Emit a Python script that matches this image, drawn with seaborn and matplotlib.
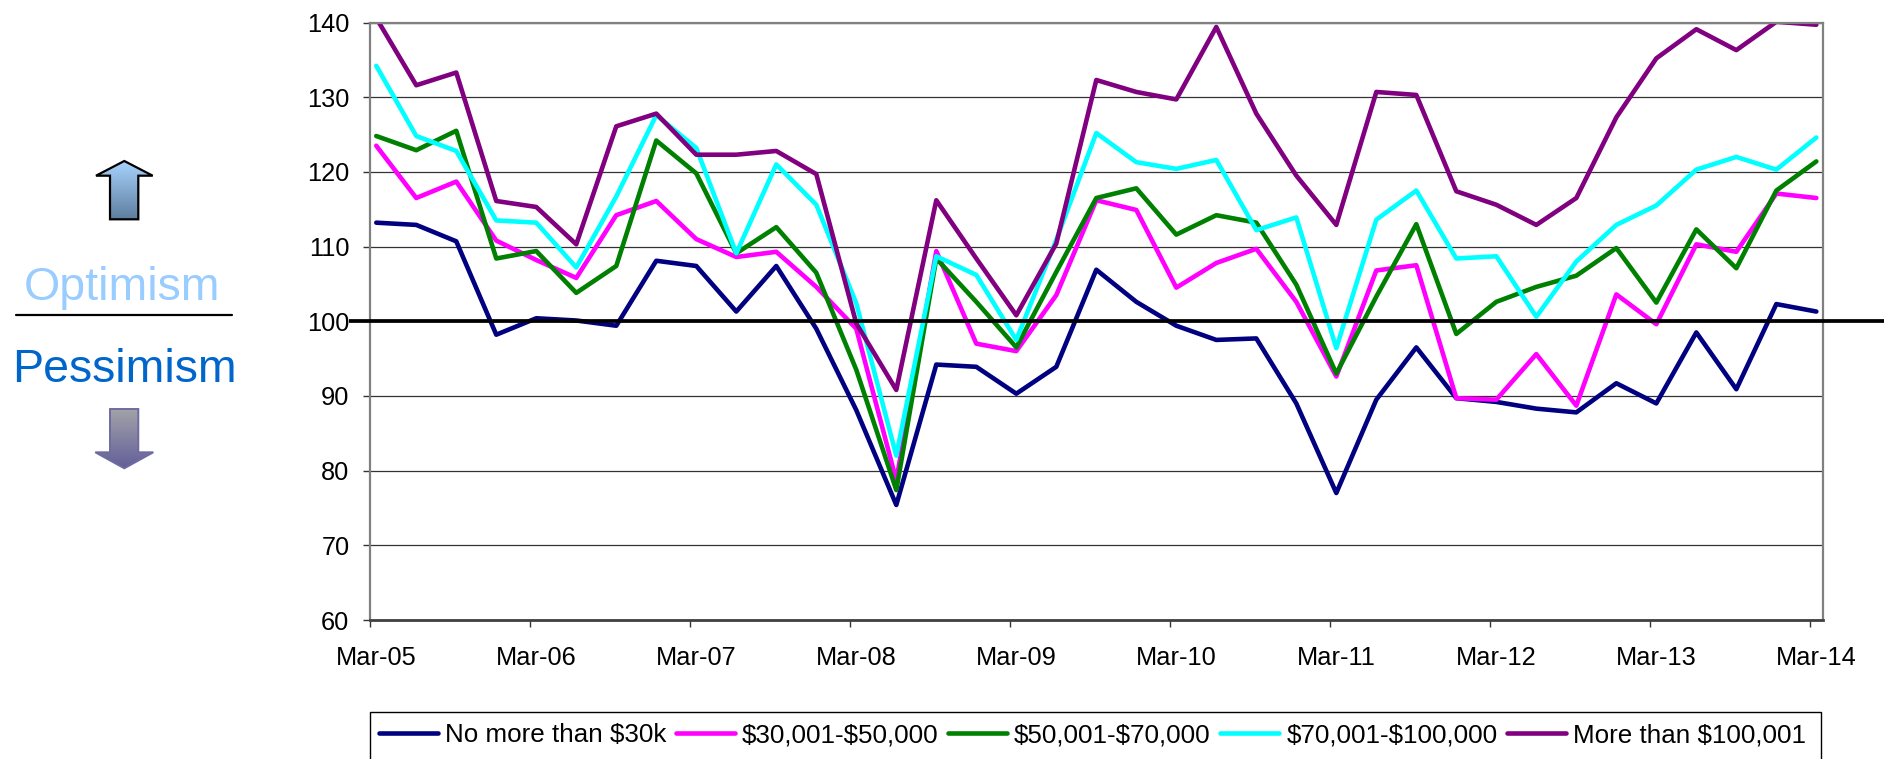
import numpy as np
import pandas as pd
import matplotlib
matplotlib.use('Agg')
import matplotlib.pyplot as plt
from matplotlib.patches import Polygon, Rectangle
import seaborn as sns

# quarterly readings, Mar-05 to Mar-14
months = list(range(0, 109, 3))
year_labels = ['Mar-05', 'Mar-06', 'Mar-07', 'Mar-08', 'Mar-09', 'Mar-10', 'Mar-11', 'Mar-12', 'Mar-13', 'Mar-14']
y_ticks = [60, 70, 80, 90, 100, 110, 120, 130, 140]

no_more_30k = [113.2, 112.9, 110.7, 98.2, 100.4, 100.1, 99.4, 108.1, 107.4, 101.3, 107.4, 99.0, 88.1,
               75.4, 94.2, 93.9, 90.3, 93.9, 106.9, 102.6, 99.4, 97.5, 97.7, 89.0, 77.0, 89.5,
               96.5, 89.7, 89.2, 88.3, 87.8, 91.7, 89.0, 98.5, 90.9, 102.3, 101.3]
from_30k = [123.5, 116.5, 118.7, 110.8, 108.2, 105.8, 114.2, 116.1, 111.0, 108.6, 109.3, 104.6, 99.0,
            78.7, 109.4, 97.0, 96.0, 103.5, 116.2, 114.9, 104.5, 107.8, 109.7, 102.6, 92.6, 106.8,
            107.5, 89.7, 89.5, 95.6, 88.7, 103.6, 99.6, 110.3, 109.3, 117.1, 116.5]
from_50k = [124.8, 122.9, 125.5, 108.4, 109.4, 103.8, 107.4, 124.2, 119.8, 109.1, 112.6, 106.5, 93.5,
            77.4, 108.4, 102.6, 96.5, 106.6, 116.5, 117.8, 111.6, 114.2, 113.2, 104.9, 93.0, 103.3,
            113.0, 98.3, 102.6, 104.6, 106.1, 109.8, 102.5, 112.3, 107.1, 117.5, 121.4]
from_70k = [134.2, 124.8, 122.8, 113.5, 113.2, 107.2, 116.7, 127.6, 123.2, 109.1, 121.0, 115.6, 102.4,
            82.0, 108.7, 106.2, 97.5, 110.9, 125.2, 121.3, 120.4, 121.6, 112.2, 113.9, 96.4, 113.6,
            117.5, 108.4, 108.7, 100.6, 108.0, 112.9, 115.5, 120.3, 122.0, 120.3, 124.6]
more_100k = [140.6, 131.6, 133.3, 116.1, 115.3, 110.3, 126.1, 127.8, 122.3, 122.3, 122.8, 119.7, 99.7,
             90.8, 116.2, 108.4, 100.8, 110.4, 132.3, 130.7, 129.7, 139.4, 127.8, 119.5, 112.9, 130.7,
             130.3, 117.4, 115.6, 112.9, 116.5, 127.3, 135.2, 139.1, 136.3, 140.1, 139.7]

series_names = ['No more than $30k', '$30,001-$50,000', '$50,001-$70,000', '$70,001-$100,000', 'More than $100,001']
series_colors = ['#000080', '#FF00FF', '#008000', '#00FFFF', '#800080']

df = pd.DataFrame({'month': months,
                   series_names[0]: no_more_30k,
                   series_names[1]: from_30k,
                   series_names[2]: from_50k,
                   series_names[3]: from_70k,
                   series_names[4]: more_100k})
df = df.melt(id_vars='month', var_name='income', value_name='index')

sns.set_style('white')
plt.rcParams['font.family'] = ['Liberation Sans', 'DejaVu Sans']
plt.rcParams['text.parse_math'] = False

W, H = 1890, 759
fig = plt.figure(figsize=(W / 100, H / 100), dpi=100)
ax = fig.add_axes([369.6 / W, 1 - 620 / H, 1453.4 / W, 597.5 / H])

sns.lineplot(data=df, x='month', y='index', hue='income', hue_order=series_names,
             palette=series_colors, linewidth=3.3, errorbar=None, ax=ax)

ax.set_xlim(-0.5, 108.5)
ax.set_ylim(60, 140)
ax.set_xlabel('')
ax.set_ylabel('')

# ticks sit on the month edges, labels on the month itself
ax.set_xticks([m - 0.5 for m in range(0, 109, 12)])
ax.set_xticklabels([])
ax.set_xticks(list(range(0, 109, 12)), labels=year_labels, minor=True)
ax.tick_params(axis='x', which='major', length=5, width=1, color='#333333', bottom=True)
ax.tick_params(axis='x', which='minor', length=0, pad=18.5, labelsize=18.3, labelcolor='black', bottom=False)
ax.set_yticks(y_ticks)
ax.tick_params(axis='y', length=5, width=1, color='#333333', left=True, pad=9.5, labelsize=18.3, labelcolor='black')

ax.grid(False)
ax.set_axisbelow(True)
ax.yaxis.grid(True, color='#333333', linewidth=0.9)
for side in ['top', 'right', 'left']:
    ax.spines[side].set_color('#808080')
    ax.spines[side].set_linewidth(1.6)
ax.spines['bottom'].set_color('#404040')
ax.spines['bottom'].set_linewidth(2)

# heavy line at 100 runs past the axes on both sides
ax.plot([-0.0142, 1.042], [100, 100], color='black', linewidth=2.7, clip_on=False, zorder=6,
        transform=ax.get_yaxis_transform(), solid_capstyle='butt')

handles, labels = ax.get_legend_handles_labels()
ax.get_legend().remove()
leg = fig.legend(handles, labels, ncol=5, loc='upper left', bbox_to_anchor=(379 / W, 1 - 723.5 / H),
                 frameon=False, fontsize=18.7, labelcolor='black', handlelength=2.27, handletextpad=0.27,
                 columnspacing=0.37, borderpad=0, borderaxespad=0)
for line in leg.get_lines():
    line.set_solid_capstyle('round')
    line.set_linewidth(3.3)

# left side panel and legend box, drawn in pixel coordinates
side = fig.add_axes([0, 0, 1, 1], zorder=-1)
side.set_xlim(0, W)
side.set_ylim(H, 0)
side.axis('off')

# the box runs off the bottom of the picture, as in the original
side.add_patch(Rectangle((369.5, 711.5), 1451.2, 60, facecolor='white', edgecolor='black', linewidth=1, zorder=1))


def gradient_arrow(points, top, bottom, edge, lw):
    ys = [p[1] for p in points]
    xs = [p[0] for p in points]
    c1 = np.array(matplotlib.colors.to_rgb(top))
    c2 = np.array(matplotlib.colors.to_rgb(bottom))
    grad = np.linspace(0, 1, 64)[:, None, None] * (c2 - c1) + c1
    im = side.imshow(grad, extent=[min(xs), max(xs), max(ys), min(ys)], aspect='auto', zorder=1)
    poly = Polygon(points, closed=True, facecolor='none', edgecolor=edge, linewidth=lw, zorder=2)
    side.add_patch(poly)
    im.set_clip_path(poly)


gradient_arrow([(124.3, 161), (152.7, 175.7), (138.3, 175.7), (138.3, 219.3), (110, 219.3), (110, 175.7), (96, 175.7)],
               '#A8D4FF', '#5F7F9F', 'black', 1.6)
gradient_arrow([(110, 409), (138.3, 409), (138.3, 452.3), (153.3, 452.3), (124.3, 468.3), (95.3, 452.3), (110, 452.3)],
               '#A3A3A8', '#63609A', '#6F6BA0', 1.4)
side.set_xlim(0, W)
side.set_ylim(H, 0)

side.text(122, 300, 'Optimism', color='#99CCFF', fontsize=33.5, ha='center', va='baseline')
side.text(124, 381.7, 'Pessimism', color='#0066CC', fontsize=33.5, ha='center', va='baseline')
side.plot([16, 232], [315, 315], color='black', linewidth=1.6)

fig.savefig('out.png', dpi=100)
